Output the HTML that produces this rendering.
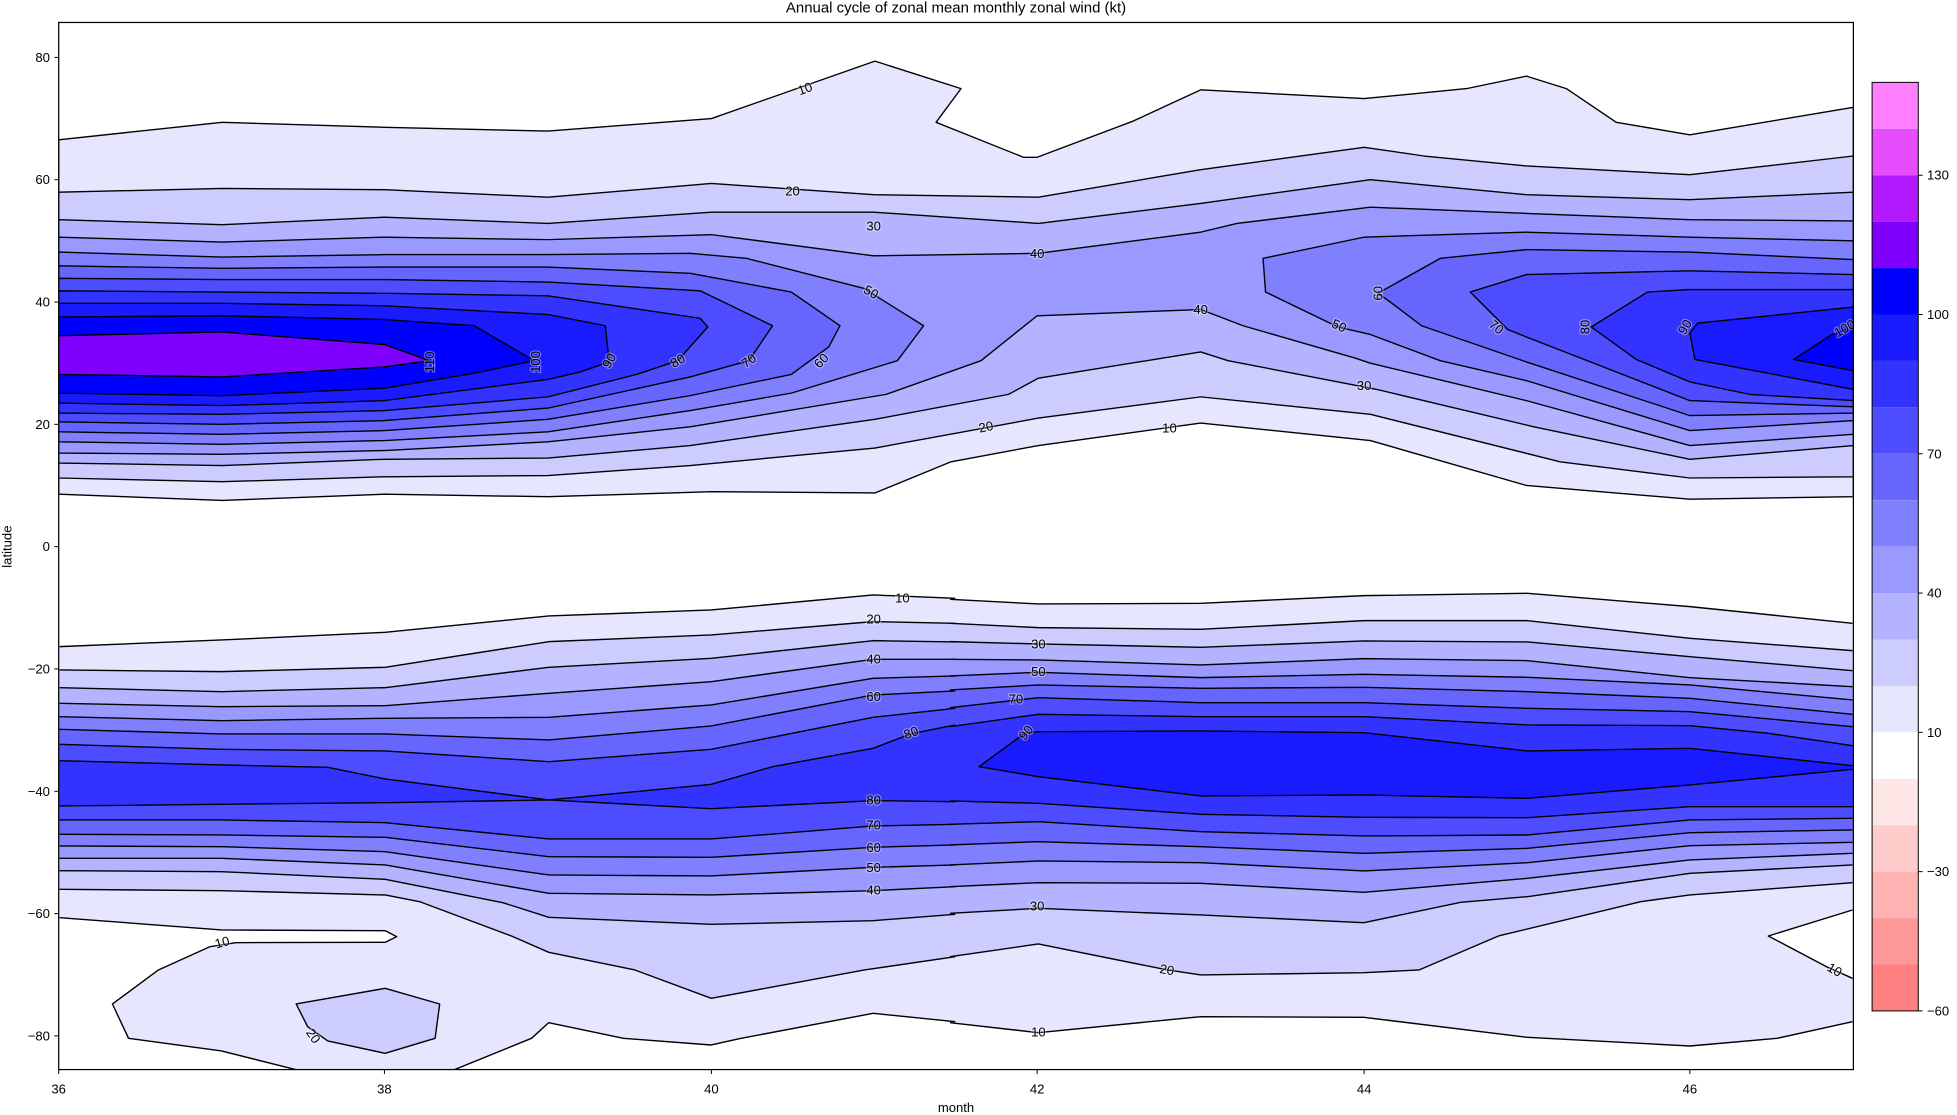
<!DOCTYPE html>
<html><head><meta charset="utf-8"><style>
html,body{margin:0;padding:0;background:#fff;}
svg{display:block;}
text{font-family:"Liberation Sans","DejaVu Sans",sans-serif;fill:#000;}
.lbl text{stroke:#ffffff;stroke-opacity:0.35;stroke-width:2;paint-order:stroke;}
</style></head><body>
<svg width="1957" height="1115" viewBox="0 0 1568 893.4" xmlns="http://www.w3.org/2000/svg">
<defs><clipPath id="ax"><rect x="47" y="18" width="1438" height="839"/></clipPath></defs>
<g clip-path="url(#ax)">
<g stroke="#000" stroke-width="1.1" stroke-linejoin="round">
<polygon fill="#e6e6ff" points="47,112 178,98 308,102 439,105 570,95 701,49 770,71 750,98 820,126 831,126 908,97 962,72 1093,79 1175,71 1223,61 1255,71 1295,98 1354,108 1485,86 1485,398 1354,400 1223,389 1098,353 962,339 832,357 762,370 701,395 570,394 439,398 308,396 178,401 47,396"/>
<polygon fill="#ccccff" points="47,154 178,151 308,152 439,158 570,147 700,156 832,158 962,136 1093,118 1141,125 1223,133 1354,140 1485,125 1485,382 1354,383 1250,370 1098,332 962,318 832,335 701,359 553,373 439,381 308,382 178,386 47,383"/>
<polygon fill="#b3b3ff" points="47,176 178,180 308,174 439,179 570,170 700,170 832,179 962,163 1098,144 1223,156 1354,160 1485,154 1485,357 1354,368 1229,342 1103,312 984,289 962,282 832,303 808,316 701,336 553,357 439,367 308,368 178,373 47,371"/>
<polygon fill="#9999ff" points="47,190 178,194 308,190 439,192 570,188 700,205 832,203 962,186 991,179 1098,166 1223,171 1354,176 1485,177 1485,348 1354,357 1223,321 1098,291 1086,287 996,261 962,248 831,253 786,289 710,316 553,342 439,354 308,361 178,364 47,363"/>
<polygon fill="#8080ff" points="47,202 178,206 308,204 439,204 553,203 598,207 692,231 740,261 719,289 634,315 553,329 439,346 308,353 178,356 47,354"/>
<polygon fill="#8080ff" points="1012,207 1093,190 1223,186 1354,190 1485,193 1485,337 1354,345 1223,305 1154,289 1098,268 1072,262 1014,234"/>
<polygon fill="#6666ff" points="47,213 178,215 308,214 439,214 553,219 634,234 673,261 664,278 634,300 553,317 439,336 308,345 178,348 47,346"/>
<polygon fill="#6666ff" points="1104,235 1154,207 1223,200 1354,202 1485,208 1485,331 1354,333 1223,290 1139,261 1114,242"/>
<polygon fill="#4d4dff" points="47,223 178,224 308,224 439,226 561,233 619,261 600,289 553,302 439,327 308,337 178,340 47,338"/>
<polygon fill="#4d4dff" points="1178,234 1223,220 1354,217 1485,220 1485,326 1354,321 1223,270 1208,264"/>
<polygon fill="#3333ff" points="47,233 178,234 308,235 439,237 561,255 567,262 543,289 510,300 439,318 308,329 178,332 47,331"/>
<polygon fill="#3333ff" points="1275,262 1320,234 1354,232 1485,232 1485,321 1402,316 1354,306 1311,288"/>
<polygon fill="#1a1aff" points="47,243 178,243 308,245 439,252 485,261 488,290 465,298 439,304 308,321 178,325 47,323"/>
<polygon fill="#1a1aff" points="1354,267 1360,259 1485,246 1485,312 1358,288"/>
<polygon fill="#0000ff" points="47,254 178,253 308,256 380,261 428,289 380,299 308,311 178,317 47,315"/>
<polygon fill="#0000ff" points="1437,288 1468,268 1485,262 1485,297"/>
<polygon fill="#8000ff" points="47,269 178,266 308,276 344,289 308,294 178,302 47,300"/>
</g>

<g stroke="none">
<g transform="matrix(0.46 0 0 0.2671 44.07 464.7)">
<polygon fill="#e6e6ff" points="0,200 8,200 290,180 575,157 860,108 1143,90 1425,45 1568,55 1570,55 1570,1325 1568,1325 1425,1300 1195,1375 1143,1395 990,1375 860,1328 830,1375 680,1480 445,1480 290,1413 128,1375 100,1272 180,1170 270,1100 315,1088 575,1087 595,1070 575,1052 290,1050 8,1013 0,1013"/>
</g>
<g transform="matrix(0.465 0 0 0.2671 761.2 464.7)">
<polygon fill="#e6e6ff" points="-5,58 0,58 152,72 432,70 713,47 995,40 1275,80 1555,130 1565,130 1565,990 1555,990 1410,1068 1510,1160 1555,1195 1565,1195 1565,1325 1555,1325 1425,1375 1275,1398 995,1372 713,1312 432,1310 152,1358 0,1328 -5,1328"/>
</g>
<g transform="matrix(0.46 0 0 0.2671 44.07 464.7)">
<polygon fill="#ccccff" points="0,270 8,270 290,275 575,262 860,185 1143,165 1425,125 1570,130 1570,1130 1410,1170 1143,1255 1010,1170 860,1117 795,1068 635,965 575,945 290,932 8,928 0,928"/>
<polygon fill="#ccccff" points="420,1272 575,1225 670,1272 662,1375 575,1420 475,1383 440,1340"/>
</g>
<g transform="matrix(0.465 0 0 0.2671 761.2 464.7)">
<polygon fill="#ccccff" points="-5,130 0,130 152,143 432,148 713,122 995,122 1275,175 1555,212 1565,212 1565,908 1555,908 1275,945 1190,965 945,1068 808,1170 713,1178 432,1185 375,1170 152,1092 0,1130 -5,1130"/>
</g>
<g transform="matrix(0.46 0 0 0.2671 44.07 464.7)">
<polygon fill="#b3b3ff" points="0,323 8,323 290,335 575,323 860,262 1143,235 1425,182 1570,186 1570,1003 1425,1022 1143,1033 860,1012 780,968 575,898 290,875 8,872 0,872"/>
</g>
<g transform="matrix(0.465 0 0 0.2671 761.2 464.7)">
<polygon fill="#b3b3ff" points="-5,185 0,185 152,192 432,202 713,183 995,186 1275,230 1565,272 1565,855 1275,880 995,950 880,967 713,1028 432,1005 152,985 0,1000 -5,1000"/>
</g>
<g transform="matrix(0.46 0 0 0.2671 44.07 464.7)">
<polygon fill="#9999ff" points="0,370 8,370 290,380 575,377 860,340 1143,305 1425,238 1570,238 1570,920 1425,932 1143,945 860,940 575,855 290,835 8,835 0,835"/>
</g>
<g transform="matrix(0.465 0 0 0.2671 761.2 464.7)">
<polygon fill="#9999ff" points="-5,238 152,240 432,255 713,236 995,242 1275,293 1565,320 1565,820 1275,840 995,895 713,937 432,910 152,908 -5,920"/>
</g>
<g transform="matrix(0.46 0 0 0.2671 44.07 464.7)">
<polygon fill="#8080ff" points="0,410 8,410 290,422 575,415 860,412 1143,375 1425,295 1570,288 1570,855 1425,862 1143,888 860,885 575,815 290,800 8,798 0,798"/>
</g>
<g transform="matrix(0.465 0 0 0.2671 761.2 464.7)">
<polygon fill="#8080ff" points="-5,288 152,277 432,293 713,283 995,292 1275,315 1565,360 1565,787 1275,797 995,848 713,873 432,848 152,843 -5,855"/>
</g>
<g transform="matrix(0.46 0 0 0.2671 44.07 464.7)">
<polygon fill="#6666ff" points="0,448 8,448 290,462 575,462 860,480 1143,438 1425,345 1570,333 1570,795 1425,802 1143,832 860,830 575,772 290,765 8,763 0,763"/>
</g>
<g transform="matrix(0.465 0 0 0.2671 761.2 464.7)">
<polygon fill="#6666ff" points="-5,330 152,315 432,325 713,322 995,335 1275,355 1565,403 1565,750 1275,758 995,805 713,820 432,800 152,785 -5,795"/>
</g>
<g transform="matrix(0.46 0 0 0.2671 44.07 464.7)">
<polygon fill="#4d4dff" points="0,493 8,493 290,508 575,513 860,545 1143,508 1425,412 1570,385 1570,733 1425,738 1143,777 860,777 575,728 290,720 8,720 0,720"/>
</g>
<g transform="matrix(0.465 0 0 0.2671 761.2 464.7)">
<polygon fill="#4d4dff" points="-5,383 152,353 432,368 713,368 995,385 1275,395 1565,440 1565,715 1275,720 995,765 713,768 432,755 152,725 -5,733"/>
</g>
<g transform="matrix(0.46 0 0 0.2671 44.07 464.7)">
<polygon fill="#3333ff" points="0,542 8,542 290,555 475,562 575,597 860,660 1143,613 1250,560 1425,505 1490,462 1570,435 1570,665 1425,662 1143,686 860,660 575,668 8,678 0,678"/>
</g>
<g transform="matrix(0.465 0 0 0.2671 761.2 464.7)">
<polygon fill="#3333ff" points="-5,440 152,403 432,410 713,410 995,435 1275,437 1410,460 1565,497 1565,680 1275,680 995,713 713,712 432,703 152,670 -5,663"/>
<polygon fill="#1a1aff" points="50,560 130,458 152,455 432,453 713,458 995,513 1275,505 1565,557 1565,568 1275,615 995,655 713,645 432,648 152,590"/>
</g>
</g>

<g fill="none" stroke="#000" stroke-width="1.4" stroke-linejoin="round">
<g transform="matrix(0.46 0 0 0.2671 44.07 464.7)">
<polyline vector-effect="non-scaling-stroke" points="8,200 290,180 575,157 860,108 1143,90 1425,45 1568,55"/>
<polyline vector-effect="non-scaling-stroke" points="1568,1325 1425,1300 1195,1375 1143,1395 990,1375 860,1328 830,1375 680,1480"/>
<polyline vector-effect="non-scaling-stroke" points="445,1480 290,1413 128,1375 100,1272 180,1170 270,1100 315,1088 575,1087 595,1070 575,1052 290,1050 8,1013"/>
<polyline vector-effect="non-scaling-stroke" points="8,270 290,275 575,262 860,185 1143,165 1425,125 1568,130"/>
<polyline vector-effect="non-scaling-stroke" points="1568,1130 1410,1170 1143,1255 1010,1170 860,1117 795,1068 635,965 575,945 290,932 8,928"/>
<polygon vector-effect="non-scaling-stroke" points="420,1272 575,1225 670,1272 662,1375 575,1420 475,1383 440,1340"/>
<polyline vector-effect="non-scaling-stroke" points="8,323 290,335 575,323 860,262 1143,235 1425,182 1568,186"/>
<polyline vector-effect="non-scaling-stroke" points="1568,1003 1425,1022 1143,1033 860,1012 780,968 575,898 290,875 8,872"/>
<polyline vector-effect="non-scaling-stroke" points="8,370 290,380 575,377 860,340 1143,305 1425,238 1568,238"/>
<polyline vector-effect="non-scaling-stroke" points="1568,920 1425,932 1143,945 860,940 575,855 290,835 8,835"/>
<polyline vector-effect="non-scaling-stroke" points="8,410 290,422 575,415 860,412 1143,375 1425,295 1568,288"/>
<polyline vector-effect="non-scaling-stroke" points="1568,855 1425,862 1143,888 860,885 575,815 290,800 8,798"/>
<polyline vector-effect="non-scaling-stroke" points="8,448 290,462 575,462 860,480 1143,438 1425,345 1568,333"/>
<polyline vector-effect="non-scaling-stroke" points="1568,795 1425,802 1143,832 860,830 575,772 290,765 8,763"/>
<polyline vector-effect="non-scaling-stroke" points="8,493 290,508 575,513 860,545 1143,508 1425,412 1568,385"/>
<polyline vector-effect="non-scaling-stroke" points="1568,733 1425,738 1143,777 860,777 575,728 290,720 8,720"/>
<polyline vector-effect="non-scaling-stroke" points="8,542 290,555 475,562 575,597 860,660 1143,613 1250,560 1425,505 1490,462 1568,435"/>
<polyline vector-effect="non-scaling-stroke" points="1568,665 1425,662 1143,686 860,660 575,668 8,678"/>
</g>
<g transform="matrix(0.465 0 0 0.2671 761.2 464.7)">
<polyline vector-effect="non-scaling-stroke" points="0,58 152,72 432,70 713,47 995,40 1275,80 1555,130"/>
<polyline vector-effect="non-scaling-stroke" points="1555,990 1410,1068 1510,1160 1555,1195"/>
<polyline vector-effect="non-scaling-stroke" points="1555,1325 1425,1375 1275,1398 995,1372 713,1312 432,1310 152,1358 0,1328"/>
<polyline vector-effect="non-scaling-stroke" points="0,130 152,143 432,148 713,122 995,122 1275,175 1555,212"/>
<polyline vector-effect="non-scaling-stroke" points="1555,908 1275,945 1190,965 945,1068 808,1170 713,1178 432,1185 375,1170 152,1092 0,1130"/>
<polyline vector-effect="non-scaling-stroke" points="0,185 152,192 432,202 713,183 995,186 1275,230 1555,272"/>
<polyline vector-effect="non-scaling-stroke" points="1555,855 1275,880 995,950 880,967 713,1028 432,1005 152,985 0,1000"/>
<polyline vector-effect="non-scaling-stroke" points="0,238 152,240 432,255 713,236 995,242 1275,293 1555,320"/>
<polyline vector-effect="non-scaling-stroke" points="1555,820 1275,840 995,895 713,937 432,910 152,908 0,920"/>
<polyline vector-effect="non-scaling-stroke" points="0,288 152,277 432,293 713,283 995,292 1275,315 1555,360"/>
<polyline vector-effect="non-scaling-stroke" points="1555,787 1275,797 995,848 713,873 432,848 152,843 0,855"/>
<polyline vector-effect="non-scaling-stroke" points="0,330 152,315 432,325 713,322 995,335 1275,355 1555,403"/>
<polyline vector-effect="non-scaling-stroke" points="1555,750 1275,758 995,805 713,820 432,800 152,785 0,795"/>
<polyline vector-effect="non-scaling-stroke" points="0,383 152,353 432,368 713,368 995,385 1275,395 1555,440"/>
<polyline vector-effect="non-scaling-stroke" points="1555,715 1275,720 995,765 713,768 432,755 152,725 0,733"/>
<polyline vector-effect="non-scaling-stroke" points="0,440 152,403 432,410 713,410 995,435 1275,437 1410,460 1555,497"/>
<polyline vector-effect="non-scaling-stroke" points="1555,680 1275,680 995,713 713,712 432,703 152,670 0,663"/>
<polyline vector-effect="non-scaling-stroke" points="1555,557 1275,505 995,513 713,458 432,453 152,455 130,458 50,560 152,590 432,648 713,645 995,655 1275,615 1555,568"/>
</g>
</g>

<g class="lbl" font-size="10.5" text-anchor="middle" dominant-baseline="central">
<text x="645" y="71" transform="rotate(-20 645 71)">10</text>
<text x="635" y="153">20</text>
<text x="700" y="181">30</text>
<text x="831" y="203">40</text>
<text x="698" y="234" transform="rotate(30 698 234)">50</text>
<text x="658" y="289" transform="rotate(-45 658 289)">60</text>
<text x="600" y="289" transform="rotate(-35 600 289)">70</text>
<text x="543" y="289" transform="rotate(-30 543 289)">80</text>
<text x="488" y="289" transform="rotate(-60 488 289)">90</text>
<text x="429" y="290" transform="rotate(-90 429 290)">100</text>
<text x="344" y="290" transform="rotate(-90 344 290)">110</text>
<text x="962" y="248">40</text>
<text x="1093" y="309">30</text>
<text x="790" y="342" transform="rotate(-12 790 342)">20</text>
<text x="937" y="343">10</text>
<text x="1073" y="261" transform="rotate(25 1073 261)">50</text>
<text x="1104" y="235" transform="rotate(-90 1104 235)">60</text>
<text x="1199" y="262" transform="rotate(40 1199 262)">70</text>
<text x="1270" y="262" transform="rotate(-90 1270 262)">80</text>
<text x="1350" y="262" transform="rotate(-60 1350 262)">90</text>
<text x="1478" y="263" transform="rotate(-30 1478 263)">100</text>
<text x="723" y="479">10</text>
<text x="700" y="496">20</text>
<text x="700" y="528">40</text>
<text x="700" y="558">60</text>
<text x="730" y="587" transform="rotate(-20 730 587)">80</text>
<text x="814" y="560">70</text>
<text x="822" y="587" transform="rotate(-50 822 587)">90</text>
<text x="832" y="516">30</text>
<text x="832" y="538">50</text>
<text x="700" y="641">80</text>
<text x="700" y="661">70</text>
<text x="700" y="679">60</text>
<text x="700" y="695">50</text>
<text x="700" y="713">40</text>
<text x="831" y="726">30</text>
<text x="935" y="777" transform="rotate(10 935 777)">20</text>
<text x="832" y="827">10</text>
<text x="178" y="755" transform="rotate(-15 178 755)">10</text>
<text x="251" y="830" transform="rotate(55 251 830)">20</text>
<text x="1470" y="777" transform="rotate(30 1470 777)">10</text>
</g>
</g>

<rect x="47" y="18" width="1438" height="839" fill="none" stroke="#000" stroke-width="1"/>
<g stroke="#000" stroke-width="0.8">
<line x1="43.5" y1="46" x2="47" y2="46"/><line x1="43.5" y1="144" x2="47" y2="144"/><line x1="43.5" y1="242" x2="47" y2="242"/><line x1="43.5" y1="340" x2="47" y2="340"/><line x1="43.5" y1="438" x2="47" y2="438"/><line x1="43.5" y1="536" x2="47" y2="536"/><line x1="43.5" y1="634" x2="47" y2="634"/><line x1="43.5" y1="732" x2="47" y2="732"/><line x1="43.5" y1="830" x2="47" y2="830"/>
<line x1="47" y1="857" x2="47" y2="860.5"/><line x1="308" y1="857" x2="308" y2="860.5"/><line x1="570" y1="857" x2="570" y2="860.5"/><line x1="831" y1="857" x2="831" y2="860.5"/><line x1="1093" y1="857" x2="1093" y2="860.5"/><line x1="1354" y1="857" x2="1354" y2="860.5"/>
</g>
<g font-size="10.5" text-anchor="end" dominant-baseline="central">
<text x="40" y="46">80</text><text x="40" y="144">60</text><text x="40" y="242">40</text><text x="40" y="340">20</text><text x="40" y="438">0</text><text x="40" y="536">−20</text><text x="40" y="634">−40</text><text x="40" y="732">−60</text><text x="40" y="830">−80</text>
</g>
<g font-size="10.5" text-anchor="middle">
<text x="47" y="876">36</text><text x="308" y="876">38</text><text x="570" y="876">40</text><text x="831" y="876">42</text><text x="1093" y="876">44</text><text x="1354" y="876">46</text>
<text x="766" y="891">month</text>
<text x="766" y="10" font-size="12">Annual cycle of zonal mean monthly zonal wind (kt)</text>
<text x="9" y="438" transform="rotate(-90 9 438)">latitude</text>
</g>

<g>
<rect x="1500" y="66" width="37" height="37.2" fill="#ff80ff"/>
<rect x="1500" y="103.2" width="37" height="37.2" fill="#e64dff"/>
<rect x="1500" y="140.4" width="37" height="37.2" fill="#b31aff"/>
<rect x="1500" y="177.6" width="37" height="37.2" fill="#8000ff"/>
<rect x="1500" y="214.8" width="37" height="37.2" fill="#0000ff"/>
<rect x="1500" y="252" width="37" height="37.2" fill="#1a1aff"/>
<rect x="1500" y="289.2" width="37" height="37.2" fill="#3333ff"/>
<rect x="1500" y="326.4" width="37" height="37.2" fill="#4d4dff"/>
<rect x="1500" y="363.6" width="37" height="37.2" fill="#6666ff"/>
<rect x="1500" y="400.8" width="37" height="37.2" fill="#8080ff"/>
<rect x="1500" y="438" width="37" height="37.2" fill="#9999ff"/>
<rect x="1500" y="475.2" width="37" height="37.2" fill="#b3b3ff"/>
<rect x="1500" y="512.4" width="37" height="37.2" fill="#ccccff"/>
<rect x="1500" y="549.6" width="37" height="37.2" fill="#e6e6ff"/>
<rect x="1500" y="586.8" width="37" height="37.2" fill="#ffffff"/>
<rect x="1500" y="624" width="37" height="37.2" fill="#ffe6e6"/>
<rect x="1500" y="661.2" width="37" height="37.2" fill="#ffcccc"/>
<rect x="1500" y="698.4" width="37" height="37.2" fill="#ffb3b3"/>
<rect x="1500" y="735.6" width="37" height="37.2" fill="#ff9999"/>
<rect x="1500" y="772.8" width="37" height="37.2" fill="#ff8080"/>
<rect x="1500" y="66" width="37" height="744" fill="none" stroke="#000" stroke-width="0.8"/>
<g stroke="#000" stroke-width="0.8">
<line x1="1537" y1="140.4" x2="1540.5" y2="140.4"/><line x1="1537" y1="252" x2="1540.5" y2="252"/><line x1="1537" y1="363.6" x2="1540.5" y2="363.6"/><line x1="1537" y1="475.2" x2="1540.5" y2="475.2"/><line x1="1537" y1="586.8" x2="1540.5" y2="586.8"/><line x1="1537" y1="698.4" x2="1540.5" y2="698.4"/><line x1="1537" y1="810" x2="1540.5" y2="810"/>
</g>
<g font-size="10.5" dominant-baseline="central">
<text x="1544" y="140.4">130</text><text x="1544" y="252">100</text><text x="1544" y="363.6">70</text><text x="1544" y="475.2">40</text><text x="1544" y="586.8">10</text><text x="1544" y="698.4">−30</text><text x="1544" y="810">−60</text>
</g>
</g>
</svg>
</body></html>
